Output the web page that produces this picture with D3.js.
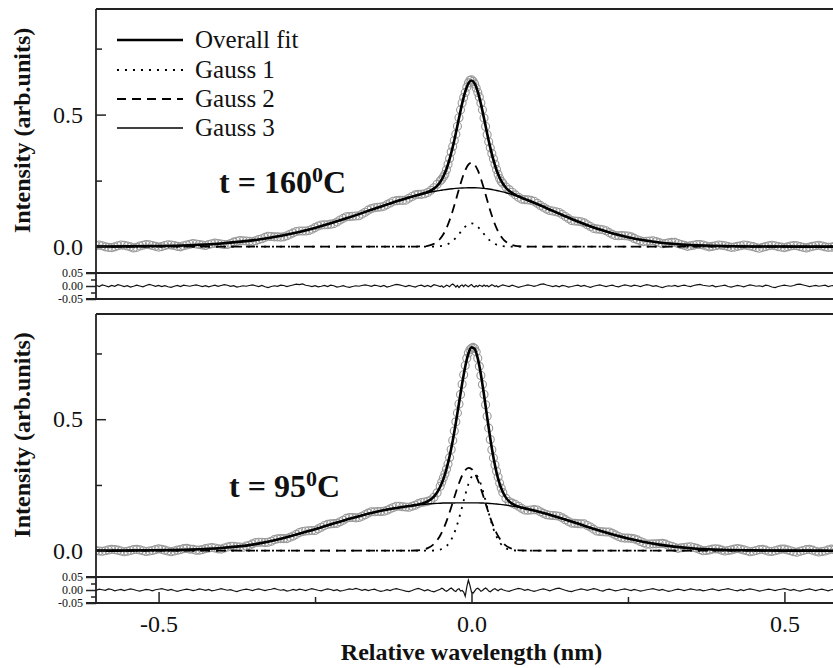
<!DOCTYPE html>
<html><head><meta charset="utf-8">
<script src="https://cdn.jsdelivr.net/npm/d3@7"></script>
<style>
html,body{margin:0;padding:0;background:#fff;}
svg{display:block;font-family:"Liberation Serif","Times New Roman",serif;}
svg text{font-family:"Liberation Serif","Times New Roman",serif;}
</style></head>
<body>
<svg id="chart" width="833" height="668"></svg>
<script>
// ---------- DATA ----------
const xDomain = [-0.6, 0.6];
const xTickLabels = [-0.5, 0.0, 0.5];
const xMinorTicks = [-0.25, 0.25];
const yTickLabels = [0.0, 0.5];
const yMinorTicks = [0.25, 0.75];
const resTickLabels = [-0.05, 0.00, 0.05];
const resMinorTicks = [-0.025, 0.025];
const legendLabels = ["Overall fit", "Gauss 1", "Gauss 2", "Gauss 3"];
const panelTitles = [["t = 160", "0", "C"], ["t = 95", "0", "C"]];
const axisTitleY = "Intensity (arb.units)";
const axisTitleX = "Relative wavelength (nm)";

// measurement grid segments: [start, step, count]
const dataGrid = [[-0.6, 0.005, 110], [-0.05, 0.0025, 40], [0.05, 0.005, 107]];

// fitted-curve abscissae
const fitX = [-0.6,-0.55,-0.5,-0.45,-0.4,-0.35,-0.3,-0.25,-0.2,-0.16,-0.13,-0.1,-0.09,-0.08,-0.07,-0.06,
  -0.055,-0.05,-0.045,-0.04,-0.035,-0.03,-0.025,-0.02,-0.015,-0.01,-0.005,0,
  0.005,0.01,0.015,0.02,0.025,0.03,0.035,0.04,0.045,0.05,0.055,0.06,0.07,0.08,0.09,0.1,
  0.13,0.16,0.2,0.25,0.3,0.35,0.4,0.45,0.5,0.55,0.6];

// ---- t = 160 C ----
const topGauss1 = [0,0,0,0,0,0,0,0,0,0,0,0,0,0,0,.0003,
  .0008,.0019,.0039,.0074,.0133,.0219,.0335,.0475,.0622,.0754,.0847,.088,
  .0847,.0754,.0622,.0475,.0335,.0219,.0133,.0074,.0039,.0019,.0008,.0003,0,0,0,0,
  0,0,0,0,0,0,0,0,0,0,0];
const topGauss2 = [0,0,0,0,0,0,0,0,0,0,0,0,.0001,.0008,.0031,.0106,
  .0182,.0299,.0469,.0701,.0999,.1358,.1761,.2179,.2571,.2893,.3106,.318,
  .3106,.2893,.2571,.2179,.1761,.1358,.0999,.0701,.0469,.0299,.0182,.0106,.0031,.0008,.0001,0,
  0,0,0,0,0,0,0,0,0,0,0];
const topGauss3 = [.0003,.0009,.0023,.0054,.0118,.0235,.0427,.0708,.107,.1393,.1634,.1856,.1922,.1983,.2038,.2087,
  .2109,.213,.2148,.2165,.218,.2193,.2205,.2214,.2221,.2226,.2229,.223,
  .2228,.2223,.2215,.2204,.2189,.2171,.2151,.2127,.21,.2071,.2039,.2005,.1929,.1845,.1755,.1659,
  .1353,.1045,.0682,.0351,.0155,.006,.002,.0006,.0002,0,0];
const topFit = [.0003,.0009,.0023,.0054,.0118,.0235,.0427,.0708,.107,.1393,.1634,.1856,.1923,.1991,.2069,.2196,
  .2299,.2448,.2656,.294,.3312,.377,.4301,.4868,.5414,.5873,.6182,.629,
  .6181,.587,.5408,.4858,.4285,.3748,.3283,.2902,.2608,.2389,.2229,.2114,.196,.1853,.1756,.1659,
  .1353,.1045,.0682,.0351,.0155,.006,.002,.0006,.0002,0,0];
const topData = [
  .004,.006,.003,-.001,-.003,-.004,-.001,.003,.006,.005,
  .002,-.001,-.005,-.003,.002,.005,.008,.007,.004,.001,
  -.002,0,.004,.007,.006,.004,.001,-.001,.003,.006,
  .009,.012,.010,.008,.006,.004,.008,.011,.013,.012,
  .010,.008,.008,.012,.017,.020,.023,.022,.021,.020,
  .019,.022,.027,.030,.035,.039,.038,.037,.037,.036,
  .037,.041,.047,.052,.057,.059,.059,.059,.061,.066,
  .072,.078,.082,.083,.083,.085,.087,.093,.101,.107,
  .113,.114,.115,.116,.117,.123,.130,.138,.144,.147,
  .149,.150,.153,.159,.165,.172,.174,.175,.175,.176,
  .183,.190,.196,.198,.198,.200,.205,.213,.223,.236,
  .249,.255,.264,.274,.291,.312,.334,.358,.379,.402,
  .426,.456,.488,.518,.544,.565,.584,.604,.620,.630,
  .632,.626,.616,.601,.584,.567,.544,.518,.487,.455,
  .424,.397,.374,.353,.333,.312,.292,.274,.258,.247,
  .240,.226,.216,.206,.196,.187,.180,.178,.177,.175,
  .172,.164,.156,.149,.142,.137,.135,.132,.129,.122,
  .114,.106,.099,.097,.096,.094,.090,.083,.076,.069,
  .067,.066,.064,.060,.053,.047,.042,.041,.042,.041,
  .040,.037,.031,.026,.022,.019,.020,.021,.022,.019,
  .015,.011,.012,.014,.016,.016,.012,.008,.005,.001,
  .003,.005,.008,.008,.006,.002,-.001,.001,.003,.006,
  .005,.003,0,-.003,-.002,.001,.003,.006,.005,.002,
  0,-.004,-.006,-.003,0,.003,.005,.003,0,-.002,
  -.004,-.001,.002,.004,.003,0,-.003,-.005,-.002,.001,
  .003,.005,.002,-.001,-.003,-.002,.001];
const topResidual = [
  .003,-.002,.004,.001,-.003,.002,-.001,.005,.002,-.002,
  .001,-.004,-.001,.003,0,-.003,.002,.006,.003,-.001,
  .002,-.002,.001,-.003,-.005,-.001,.002,-.002,.003,.001,
  -.001,.002,.004,.001,-.002,.001,-.003,0,.003,-.001,
  .002,.005,.003,-.001,.001,-.004,-.002,.001,-.001,.002,
  .004,.001,-.002,.002,-.003,-.006,-.002,.001,-.001,.003,
  .002,-.002,.001,.004,.007,.005,.008,.003,.001,-.002,
  .001,-.003,-.001,.002,-.002,.003,.001,-.004,-.002,.001,
  -.003,-.005,-.002,.001,-.001,.002,.004,.002,-.001,.003,
  .001,-.002,.002,-.004,-.001,.003,.006,.004,.001,-.002,
  .002,-.001,-.004,.001,.003,-.002,.002,-.003,.005,.002,
  -.002,.001,-.005,-.002,.003,.001,-.003,.004,.008,.003,
  -.004,.002,-.006,.001,.004,-.002,.005,.001,-.003,.002,
  .006,-.001,-.004,.002,-.003,.003,.001,-.002,.004,-.001,
  .002,-.003,.001,.005,.002,-.002,.001,-.004,-.001,.002,
  .004,.001,-.002,.003,-.001,-.005,-.002,.001,.004,.002,
  -.001,.002,.006,.008,.004,.001,-.002,.001,-.003,.002,
  0,-.004,-.002,.001,.003,-.001,.002,-.002,-.005,-.001,
  .002,.004,.001,-.002,.001,.003,-.001,-.003,.001,.004,
  .002,-.001,.003,.001,-.002,.002,.005,.003,-.001,.001,
  -.003,-.006,-.002,.001,-.001,.002,-.002,.001,.003,0,
  -.002,.002,.004,.006,.003,.001,-.001,.002,-.003,-.001,
  .001,.003,-.002,-.004,-.001,.002,0,-.003,.001,.004,
  .002,-.001,.001,-.002,.003,.001,-.004,-.006,-.002,.001,
  .003,.001,-.001,.002,.006,.007,.004,.001,-.002,0,
  .002,-.001,.001,.003,-.002,.001,.002];

// ---- t = 95 C ----
const botGauss1 = [0,0,0,0,0,0,0,0,0,0,0,0,0,0,.0001,.0008,
  .002,.0044,.0091,.0176,.0316,.0532,.0834,.122,.1667,.2124,.2525,.2801,
  .29,.2801,.2525,.2124,.1667,.122,.0834,.0532,.0316,.0176,.0091,.0044,.0008,.0001,0,0,
  0,0,0,0,0,0,0,0,0,0,0];
const botGauss2 = [0,0,0,0,0,0,0,0,0,0,0,.0002,.0008,.0031,.0097,.0256,
  .0393,.058,.0821,.1117,.146,.1834,.2214,.2567,.2859,.3061,.315,.311,
  .2953,.2693,.236,.1987,.1607,.1249,.0933,.0669,.0461,.0305,.0194,.0119,.0039,.0011,.0003,.0001,
  0,0,0,0,0,0,0,0,0,0,0];
const botGauss3 = [.0002,.0007,.0015,.004,.01,.023,.048,.082,.118,.1436,.1585,.1696,.1725,.175,.1773,.1792,
  .18,.1807,.1811,.1813,.1815,.1816,.1817,.1818,.1819,.182,.182,.182,
  .1819,.1818,.1815,.181,.1804,.1795,.1785,.1775,.1763,.175,.1733,.1715,.1675,.163,.158,.1525,
  .133,.111,.08,.0467,.0232,.0095,.0033,.0012,.0004,.0001,0];
const botFit = [.0002,.0007,.0015,.004,.01,.023,.048,.082,.118,.1436,.1585,.1698,.1733,.1781,.1871,.2056,
  .2213,.2431,.2723,.3106,.3591,.4182,.4865,.5605,.6345,.7005,.7495,.7731,
  .7672,.7312,.67,.5921,.5078,.4264,.3552,.2976,.254,.2231,.2018,.1878,.1722,.1642,.1583,.1526,
  .133,.111,.08,.0467,.0232,.0095,.0033,.0012,.0004,.0001,0];
const botData = [
  .001,-.001,-.002,0,.003,.005,.004,.002,-.001,-.004,
  -.002,.001,.004,.005,.003,0,-.003,-.001,.001,.004,
  .007,.005,.002,-.001,-.004,-.001,.002,.004,.008,.009,
  .006,.005,.002,.002,.004,.008,.010,.012,.010,.007,
  .006,.010,.014,.017,.017,.015,.014,.013,.018,.021,
  .026,.031,.032,.032,.031,.032,.036,.042,.045,.046,
  .046,.046,.051,.056,.062,.069,.073,.075,.076,.077,
  .077,.083,.089,.096,.100,.102,.103,.104,.110,.116,
  .123,.126,.126,.125,.126,.131,.137,.143,.148,.148,
  .149,.149,.150,.154,.159,.164,.169,.169,.167,.166,
  .165,.169,.173,.179,.183,.185,.188,.193,.203,.220,
  .245,.261,.277,.292,.310,.330,.354,.385,.419,.455,
  .490,.524,.558,.594,.633,.669,.704,.732,.752,.764,
  .770,.773,.769,.756,.732,.701,.666,.632,.594,.555,
  .511,.466,.423,.384,.353,.326,.302,.280,.257,.238,
  .221,.199,.187,.181,.176,.169,.161,.155,.154,.155,
  .156,.155,.148,.142,.137,.135,.134,.133,.131,.125,
  .118,.111,.105,.104,.103,.102,.102,.096,.090,.082,
  .075,.073,.072,.071,.071,.066,.060,.054,.049,.048,
  .048,.047,.045,.041,.035,.030,.025,.025,.026,.026,
  .027,.028,.025,.020,.017,.012,.009,.011,.012,.014,
  .015,.012,.009,.004,0,.001,.003,.006,.007,.006,
  .002,-.001,.001,.003,.006,.008,.006,.003,0,-.004,
  -.002,.001,.004,.005,.002,-.002,-.003,0,.003,.006,
  .006,.003,0,-.004,-.006,-.002,.001,.004,.005,.002,
  -.002,-.005,-.003,-.001,.003,.006,.004];
const botResidual = [
  -.002,.003,.001,-.001,.004,.002,-.003,0,.002,-.002,
  .001,.004,.002,-.002,-.004,-.001,.002,.001,-.003,.001,
  .003,.005,.002,-.001,.002,-.002,-.005,-.002,.001,.003,
  .001,-.002,0,.004,.002,-.001,.002,-.003,-.001,.002,
  .005,.002,-.001,.001,-.003,-.006,-.002,.001,.003,.001,
  -.002,.002,.004,.001,-.002,.001,.003,.006,.002,-.001,
  .001,-.004,-.002,.002,-.001,.003,.001,-.002,.002,.005,
  .002,-.001,-.003,.001,.004,.002,-.002,.001,-.004,-.002,
  .001,.004,.002,.006,.003,-.001,.002,-.002,.001,.003,
  -.002,-.005,-.003,.001,-.002,.003,.005,.002,-.001,-.004,
  -.006,-.002,.003,.006,.002,-.003,.001,-.004,-.007,-.002,
  .003,.007,.004,-.002,-.005,-.001,.004,.008,.003,-.003,
  -.006,.002,.005,-.004,-.002,-.008,-.024,.012,.038,.018,
  -.008,-.012,-.004,.004,.007,.002,-.005,-.002,.004,.008,
  .003,-.004,-.007,-.002,.003,.005,.001,-.003,.002,.004,
  .001,-.003,-.005,-.001,.003,.006,.004,-.001,.002,-.002,
  -.005,-.002,.002,.004,.001,-.003,.001,.005,.007,.003,
  -.001,-.004,-.006,-.002,.001,.004,.002,-.001,.002,.005,
  .003,-.002,-.004,.001,.003,0,-.003,-.001,.002,.004,
  .001,-.002,.002,-.001,-.004,-.002,.001,.003,.005,.002,
  -.001,.002,-.002,-.005,-.003,.001,.003,.001,-.002,.001,
  .004,.002,-.001,.001,-.003,-.001,.002,.004,.001,-.002,
  .001,.003,.005,.002,-.001,-.003,.001,-.002,.002,.004,
  .002,-.001,-.004,-.002,.001,.003,.001,-.002,.001,.003,
  .005,.002,-.001,.002,-.002,-.004,-.001,.002,.004,.001,
  -.002,.001,.003,0,-.003,.001,.002];

// ---------- DRAWING ----------
const FONT = "'Liberation Serif','Times New Roman',serif";
const svg = d3.select("#chart");
const dataX = dataGrid.flatMap(([s, st, n]) => d3.range(n).map(i => +(s + st * i).toFixed(4)));

const x = d3.scaleLinear().domain(xDomain).range([96, 847]);
const LEFT = 96, RIGHT = 833;

const panels = [
  {top: 9, mid: 273, bot: 299, data: topData, res: topResidual,
   g1: topGauss1, g2: topGauss2, g3: topGauss3, fit: topFit, title: panelTitles[0], tx: 219, ty: 193, legend: true},
  {top: 314, mid: 577, bot: 603, data: botData, res: botResidual,
   g1: botGauss1, g2: botGauss2, g3: botGauss3, fit: botFit, title: panelTitles[1], tx: 229, ty: 497, legend: false}
];

const styles = {
  fit: {w: 2.6, dash: null},
  g1: {w: 1.8, dash: "2,6"},
  g2: {w: 1.8, dash: "9,6"},
  g3: {w: 1.4, dash: null}
};

panels.forEach((p, pi) => {
  const y = d3.scaleLinear().domain([-0.1, 0.9]).range([p.mid, p.top]);
  const yr = d3.scaleLinear().domain([-0.05, 0.05]).range([p.bot, p.mid]);
  const g = svg.append("g");

  const cid = "clip" + pi, rid = "rclip" + pi;
  const defs = svg.append("defs");
  defs.append("clipPath").attr("id", cid).append("rect")
    .attr("x", LEFT).attr("y", p.top).attr("width", RIGHT - LEFT).attr("height", p.mid - p.top);
  defs.append("clipPath").attr("id", rid).append("rect")
    .attr("x", LEFT).attr("y", p.mid).attr("width", RIGHT - LEFT).attr("height", p.bot - p.mid);

  const plot = g.append("g").attr("clip-path", `url(#${cid})`);
  // measured points
  plot.append("g").selectAll("circle").data(p.data).join("circle")
    .attr("cx", (d, i) => x(dataX[i])).attr("cy", d => y(d)).attr("r", 4)
    .attr("fill", "none").attr("stroke", "#999").attr("stroke-width", 1.1);

  const line = d3.line().x((d, i) => x(fitX[i])).y(d => y(d)).curve(d3.curveMonotoneX);
  [["g3", p.g3], ["g2", p.g2], ["g1", p.g1], ["fit", p.fit]].forEach(([k, arr]) => {
    plot.append("path").attr("d", line(arr)).attr("fill", "none").attr("stroke", "#000")
      .attr("stroke-width", styles[k].w).attr("stroke-dasharray", styles[k].dash);
  });

  // residuals
  const rline = d3.line().x((d, i) => x(dataX[i])).y(d => yr(d));
  g.append("g").attr("clip-path", `url(#${rid})`).append("path").attr("d", rline(p.res))
    .attr("fill", "none").attr("stroke", "#111").attr("stroke-width", 1.2);

  // frame
  const fr = g.append("g").attr("stroke", "#222").attr("stroke-width", 1.8).attr("fill", "none");
  fr.append("line").attr("x1", LEFT).attr("x2", RIGHT + 5).attr("y1", p.top).attr("y2", p.top);
  fr.append("line").attr("x1", LEFT - 10).attr("x2", RIGHT + 5).attr("y1", p.mid).attr("y2", p.mid);
  fr.append("line").attr("x1", LEFT - 10).attr("x2", RIGHT + 5).attr("y1", p.bot).attr("y2", p.bot);
  fr.append("line").attr("x1", LEFT).attr("x2", LEFT).attr("y1", p.top).attr("y2", p.bot);

  // main y axis: inward ticks
  const ya = g.append("g").attr("transform", `translate(${LEFT},0)`)
    .call(d3.axisLeft(y).tickValues(yTickLabels).tickSize(-10).tickPadding(13).tickFormat(d => d.toFixed(1)));
  ya.attr("font-family", null).attr("font-size", null);
  ya.select(".domain").remove();
  ya.selectAll("text").style("font-family", FONT).style("font-size", "24px").attr("fill", "#111");
  ya.selectAll("line").attr("stroke", "#222").attr("stroke-width", 1.5);
  const yam = g.append("g").attr("transform", `translate(${LEFT},0)`)
    .call(d3.axisLeft(y).tickValues(yMinorTicks).tickSize(-6).tickFormat(""));
  yam.select(".domain").remove();
  yam.selectAll("line").attr("stroke", "#222").attr("stroke-width", 1.5);

  // residual axis: outward ticks
  const ra = g.append("g").attr("transform", `translate(${LEFT},0)`)
    .call(d3.axisLeft(yr).tickValues(resTickLabels).tickSize(10).tickPadding(3).tickFormat(d => d.toFixed(2)));
  ra.attr("font-family", null).attr("font-size", null);
  ra.select(".domain").remove();
  ra.selectAll("text").style("font-family", FONT).style("font-size", "12px").attr("fill", "#111");
  ra.selectAll("line").attr("stroke", "#222").attr("stroke-width", 1.5);
  const ram = g.append("g").attr("transform", `translate(${LEFT},0)`)
    .call(d3.axisLeft(yr).tickValues(resMinorTicks).tickSize(5).tickFormat(""));
  ram.select(".domain").remove();
  ram.selectAll("line").attr("stroke", "#222").attr("stroke-width", 1.5);

  // y title
  g.append("text").attr("transform", `translate(30,${y(0.44)}) rotate(-90)`)
    .attr("text-anchor", "middle").attr("font-weight", "bold").style("font-size", "24px")
    .attr("fill", "#111").text(axisTitleY);

  // panel title
  const t = g.append("text").attr("x", p.tx).attr("y", p.ty).attr("font-weight", "bold")
    .style("font-size", "32px").attr("fill", "#111");
  t.append("tspan").text(p.title[0]);
  t.append("tspan").style("font-size", "22px").attr("dy", -11).text(p.title[1]);
  t.append("tspan").style("font-size", "32px").attr("dy", 11).text(p.title[2]);

  if (p.legend) {
    const keys = ["fit", "g1", "g2", "g3"];
    const ly = [40, 70, 99, 128];
    legendLabels.forEach((lab, i) => {
      const s = styles[keys[i]];
      g.append("line").attr("x1", 117).attr("x2", 183).attr("y1", ly[i]).attr("y2", ly[i])
        .attr("stroke", "#000").attr("stroke-width", s.w).attr("stroke-dasharray", s.dash);
      g.append("text").attr("x", 195).attr("y", ly[i] + 8).style("font-size", "25px")
        .attr("fill", "#111").text(lab);
    });
  }
});

// x axis at bottom
const xa = svg.append("g").attr("transform", `translate(0,${panels[1].bot})`)
  .call(d3.axisBottom(x).tickValues(xTickLabels).tickSize(-11).tickPadding(12).tickFormat(d => d.toFixed(1)));
xa.attr("font-family", null).attr("font-size", null);
xa.select(".domain").remove();
xa.selectAll("text").style("font-family", FONT).style("font-size", "24px").attr("fill", "#111");
xa.selectAll("line").attr("stroke", "#222").attr("stroke-width", 1.5);
const xam = svg.append("g").attr("transform", `translate(0,${panels[1].bot})`)
  .call(d3.axisBottom(x).tickValues(xMinorTicks).tickSize(-6).tickFormat(""));
xam.select(".domain").remove();
xam.selectAll("line").attr("stroke", "#222").attr("stroke-width", 1.5);

svg.append("text").attr("x", x(0)).attr("y", 660).attr("text-anchor", "middle")
  .attr("font-weight", "bold").style("font-size", "24px").attr("fill", "#111").text(axisTitleX);
</script>
</body></html>
